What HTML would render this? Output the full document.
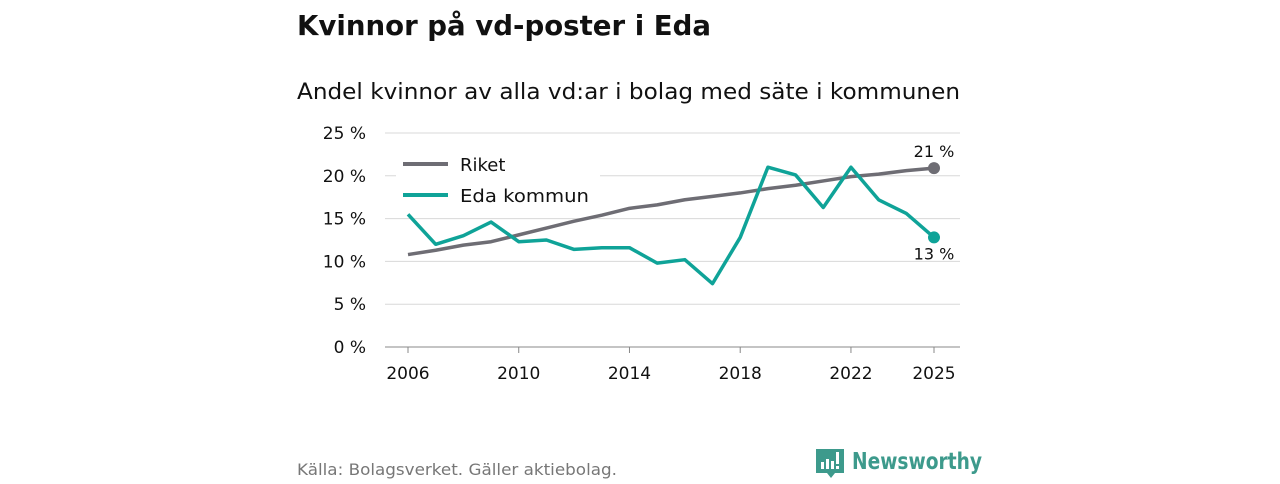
<!DOCTYPE html>
<html><head><meta charset="utf-8"><style>
body{margin:0;background:#fff;width:1280px;height:480px;overflow:hidden;font-family:"DejaVu Sans","Liberation Sans",sans-serif}
</style></head><body>
<svg id="chart" width="1280" height="480" xmlns="http://www.w3.org/2000/svg" font-family="DejaVu Sans, Liberation Sans, sans-serif">
<text x="297" y="35" font-size="28" font-weight="bold" fill="#111" textLength="414" lengthAdjust="spacingAndGlyphs">Kvinnor på vd-poster i Eda</text>
<text x="297" y="99" font-size="22" fill="#111" textLength="663" lengthAdjust="spacingAndGlyphs">Andel kvinnor av alla vd:ar i bolag med säte i kommunen</text>
<g id="grid"></g><g id="series"></g>
<g>
<rect x="396" y="148" width="204" height="64" fill="#fff"/>
<line x1="403" y1="164" x2="448" y2="164" stroke="#6e6d74" stroke-width="4"/>
<text x="460" y="171" font-size="18" fill="#111">Riket</text>
<line x1="403" y1="195" x2="448" y2="195" stroke="#0fa398" stroke-width="4"/>
<text x="460" y="202" font-size="18" fill="#111" textLength="129" lengthAdjust="spacingAndGlyphs">Eda kommun</text>
</g>
<text x="297" y="475" font-size="16" fill="#777" textLength="320" lengthAdjust="spacingAndGlyphs">Källa: Bolagsverket. Gäller aktiebolag.</text>
<g>
<path d="M816 449 h28 v24 h-9 l-4 5 l-4 -5 h-11 z" fill="#3d9a8c"/>
<rect x="821" y="462" width="3" height="7" fill="#fff"/><rect x="826" y="459" width="3" height="10" fill="#fff"/><rect x="831" y="461" width="3" height="8" fill="#fff"/><rect x="836" y="452" width="3" height="12" fill="#fff"/><rect x="836" y="466" width="3" height="3" fill="#fff"/>
<text x="852" y="469" font-size="23" font-weight="bold" fill="#3d9a8c" textLength="130" lengthAdjust="spacingAndGlyphs">Newsworthy</text>
</g>
</svg>
<script>
const years=[2006,2007,2008,2009,2010,2011,2012,2013,2014,2015,2016,2017,2018,2019,2020,2021,2022,2023,2024,2025];
const riket=[10.8,11.3,11.9,12.3,13.1,13.9,14.7,15.4,16.2,16.6,17.2,17.6,18.0,18.5,18.9,19.4,19.9,20.2,20.6,20.9];
const eda=[15.5,12.0,13.0,14.6,12.3,12.5,11.4,11.6,11.6,9.8,10.2,7.4,12.8,21.0,20.1,16.3,21.0,17.2,15.6,12.8];
const yTicks=[0,5,10,15,20,25];
const xTicks=[2006,2010,2014,2018,2022,2025];
const NS="http://www.w3.org/2000/svg";
const x=v=>408+(v-2006)*(934-408)/19;
const y=v=>347-v*(347-133)/25;
function mk(t,a,p){const e=document.createElementNS(NS,t);for(const k in a)e.setAttribute(k,a[k]);p.appendChild(e);return e;}
const grid=document.getElementById('grid'),ser=document.getElementById('series');
yTicks.forEach(t=>{
 const l=mk('line',{x1:385,x2:960,y1:y(t),y2:y(t),stroke:t===0?'#888':'#d8d8d8','stroke-width':1},grid);
 
 
 const tx=mk('text',{x:366,y:y(t)+6,'font-size':17,fill:'#111','text-anchor':'end'},grid);
 tx.textContent=t+' %';
 
 
});
xTicks.forEach(t=>{
 mk('line',{x1:x(t),x2:x(t),y1:347,y2:353,stroke:'#888'},grid);
 const tx=mk('text',{x:x(t),y:379,'font-size':17,fill:'#111','text-anchor':'middle'},grid);
 tx.textContent=t;
 
 
});
function line(vals,col,name){
 const p=mk('polyline',{points:vals.map((v,i)=>x(years[i])+','+y(v)).join(' '),fill:'none',stroke:col,'stroke-width':3.5,'stroke-linejoin':'round'},ser);
 
 
 const n=vals.length-1;
 const c=mk('circle',{cx:x(years[n]),cy:y(vals[n]),r:6,fill:col},ser);
 
 
}
line(riket,'#6e6d74','riket-line');
line(eda,'#0fa398','eda-line');
const n=years.length-1;
const l1=mk('text',{x:x(years[n]),y:y(riket[n])-11,'font-size':16,fill:'#111','text-anchor':'middle'},ser);
l1.textContent=Math.round(riket[n])+' %';


const l2=mk('text',{x:x(years[n]),y:y(eda[n])+22,'font-size':16,fill:'#111','text-anchor':'middle'},ser);
l2.textContent=Math.round(eda[n])+' %';


</script>
</body></html>
